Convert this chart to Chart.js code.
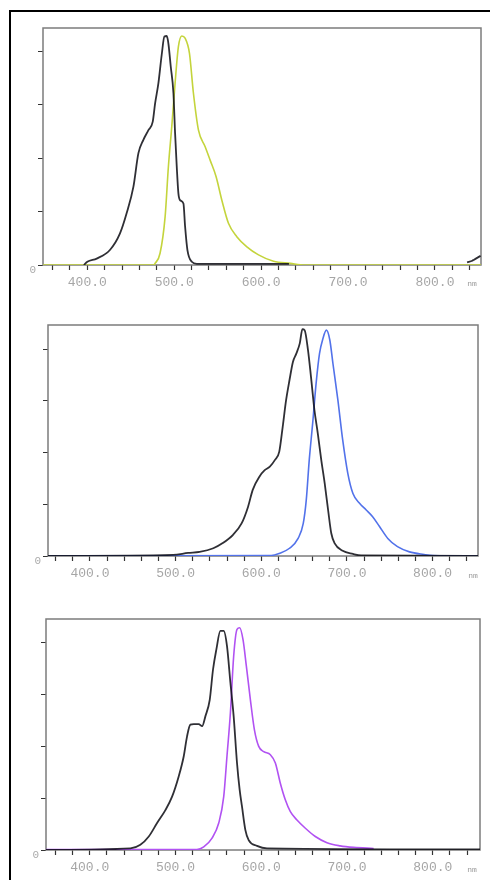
<!DOCTYPE html>
<html>
<head>
<meta charset="utf-8">
<script src="https://cdn.jsdelivr.net/npm/chart.js@4.4.0/dist/chart.umd.min.js"></script>
<style>
  body { margin: 0; background: #fff; width: 490px; height: 880px; overflow: hidden; position: relative; }
  #frame { position: absolute; left: 9px; top: 10px; width: 600px; height: 1000px; border: 2px solid #000; }
  canvas { position: absolute; }
  .unit { position: absolute; font: 8px "Liberation Mono", monospace; color: #999; transform: translate(-50%, -50%); }
</style>
</head>
<body>
<div id="frame"></div>
<canvas id="c1"></canvas>
<canvas id="c2"></canvas>
<canvas id="c3"></canvas>
<span class="unit" style="left:472px;top:283px">nm</span>
<span class="unit" style="left:473px;top:575px">nm</span>
<span class="unit" style="left:472px;top:869px">nm</span>

<script>
// ── Axis ticks ───────────────────────────────────────────────
const xTicks  = [360, 380, 400, 420, 440, 460, 480, 500, 520, 540, 560, 580, 600,
                 620, 640, 660, 680, 700, 720, 740, 760, 780, 800, 820, 840];
const xMajor  = [400, 500, 600, 700, 800];
const xLabels = ['400.0', '500.0', '600.0', '700.0', '800.0'];
const yTicks  = [0, 1, 2, 3, 4];

// ── Panel 1: excitation (black) / emission (yellow-green) ───
const p1ExNm  = [396, 400, 410.8, 426, 437.6, 445.3, 453, 458.8, 464.5, 470.3, 475.3, 478, 481.8, 485.6, 488.7,
                 491.4, 493.3, 496, 499.1, 501, 502.9, 504.8, 506.8, 510.6, 512.5, 515.2, 520.2, 526, 632,
                 700, 837, 843, 845, 852.5];
const p1ExVal = [0, 0.06, 0.12, 0.28, 0.59, 0.97, 1.46, 2.09, 2.34, 2.52, 2.68, 3.02, 3.40, 3.93, 4.27,
                 4.28, 4.14, 3.71, 3.21, 2.46, 1.84, 1.34, 1.21, 1.15, 0.72, 0.28, 0.06, 0.02, 0.02,
                 null, 0.05, 0.08, 0.10, 0.17];
const p1EmNm  = [349, 476, 478, 483.7, 489.5, 493.3, 497.2, 501, 504.8, 508.7, 512.5, 517.5, 522.1, 527.9,
                 535.6, 541.3, 548.2, 554.8, 562.4, 572, 583.6, 597, 614.3, 633.5, 650, 853];
const p1EmVal = [0, 0, 0.03, 0.22, 0.90, 1.84, 2.59, 3.40, 4.08, 4.28, 4.24, 3.96, 3.21, 2.52,
                 2.21, 1.96, 1.65, 1.21, 0.78, 0.53, 0.34, 0.19, 0.07, 0.03, 0, 0];

// ── Panel 2: excitation (black) / emission (blue) ───────────
const p2ExNm  = [351, 497, 514.6, 528, 544, 555, 567, 577, 584.5, 590, 598, 604, 610, 616, 621, 625, 629,
                 633, 637, 641, 645, 648, 650.6, 654.5, 658, 662, 666, 670, 674, 678, 681.7, 685.5,
                 695, 707, 716.6, 853];
const p2ExVal = [0, 0.02, 0.06, 0.08, 0.15, 0.25, 0.41, 0.63, 0.95, 1.28, 1.54, 1.66, 1.73, 1.86, 2.02, 2.50, 3.02,
                 3.41, 3.76, 3.92, 4.12, 4.39, 4.37, 3.99, 3.47, 2.83, 2.37, 1.86, 1.41, 0.89, 0.44, 0.25,
                 0.10, 0.04, 0.01, 0];
const p2EmNm  = [351, 611.7, 621, 633, 643, 649, 652.5, 656, 660, 664, 668, 672, 676, 680, 683.6, 689.4,
                 695, 701, 707, 714.7, 722.5, 730, 738, 747.7, 759, 773, 790, 800, 853];
const p2EmVal = [0, 0.01, 0.05, 0.15, 0.34, 0.63, 1.08, 1.86, 2.57, 3.34, 3.92, 4.21, 4.37, 4.18, 3.73, 3.02,
                 2.25, 1.60, 1.21, 1.02, 0.89, 0.76, 0.57, 0.34, 0.18, 0.08, 0.03, 0.01, 0];

// ── Panel 3: excitation (black) / emission (violet) ─────────
const p3ExNm  = [349, 447.4, 459, 468.8, 478.5, 488.2, 496, 503.7, 509.6, 513.4, 517.3, 521.2, 527, 531,
                 534.8, 539.9, 543.7, 547.6, 552.3, 556.2, 560, 564, 567.8, 571.7, 574.8, 577.5, 581.4,
                 585.3, 595, 606.7, 855];
const p3ExVal = [0, 0.03, 0.10, 0.26, 0.52, 0.77, 1.03, 1.42, 1.81, 2.19, 2.42, 2.43, 2.43, 2.39,
                 2.58, 2.90, 3.48, 3.87, 4.23, 4.23, 3.94, 3.23, 2.58, 1.68, 1.16, 0.84, 0.39,
                 0.19, 0.08, 0.03, 0.01];
const p3EmNm  = [349, 525, 532.9, 542.6, 550.4, 556.2, 560, 564, 567.8, 571.7, 574.8, 578.7, 582.6, 587.3,
                 592, 597, 602.8, 610.6, 616.4, 622.2, 628, 633.9, 641.6, 651.4, 663, 676.6, 692, 707.7, 731];
const p3EmVal = [0.01, 0.01, 0.06, 0.23, 0.52, 1.03, 1.81, 2.65, 3.74, 4.26, 4.29, 4.06, 3.55, 2.90,
                 2.32, 2.00, 1.90, 1.84, 1.68, 1.29, 0.97, 0.74, 0.58, 0.42, 0.26, 0.14, 0.08, 0.05, 0.03];

// ── Colours ──────────────────────────────────────────────────
const BLACK  = 'rgba(10, 10, 18, 0.85)';
const YELLOW = '#c4d43c';
const BLUE   = '#5272ea';
const VIOLET = '#b152f2';

const LABEL_FONT = { family: '"Liberation Mono", monospace', size: 13 };

function pts(xs, ys) {
  return xs.map((x, i) => ({ x, y: ys[i] }));
}

// grey frame around the plot area, drawn under the curves
const boxPlugin = {
  id: 'box',
  beforeDatasetsDraw(chart) {
    const a = chart.chartArea, c = chart.ctx;
    c.save();
    c.strokeStyle = '#7c7c7c';
    c.lineWidth = 1.5;
    c.strokeRect(a.left, a.top, a.right - a.left, a.bottom - a.top);
    c.restore();
  }
};

const AX_W = 40, AX_H = 35, PAD = 10;

function makePanel(id, box, xMin, xMax, yMax, ex, em, emColor) {
  const cv = document.getElementById(id);
  const w = Math.round(box.r - box.l) + AX_W + PAD;
  const h = Math.round(box.b - box.t) + AX_H + PAD;
  cv.width = w; cv.height = h;
  cv.style.width = w + 'px'; cv.style.height = h + 'px';
  cv.style.left = (box.l - AX_W) + 'px';
  cv.style.top  = (box.t - PAD) + 'px';

  new Chart(cv.getContext('2d'), {
    type: 'line',
    data: {
      datasets: [
        { data: ex, borderColor: BLACK, borderWidth: 1.8 },
        { data: em, borderColor: emColor, borderWidth: 1.6 }
      ]
    },
    options: {
      responsive: false,
      animation: false,
      spanGaps: false,
      layout: { padding: { left: 0, top: PAD, right: PAD, bottom: 0 } },
      elements: {
        point: { radius: 0 },
        line:  { cubicInterpolationMode: 'monotone', fill: false }
      },
      plugins: { legend: { display: false }, tooltip: { enabled: false } },
      scales: {
        x: {
          type: 'linear', min: xMin, max: xMax,
          afterBuildTicks: s => { s.ticks = xTicks.map(v => ({ value: v })); },
          afterFit: s => { s.height = AX_H; },
          border: { display: false },
          grid: { drawOnChartArea: false, tickLength: 5, tickColor: '#333', tickWidth: 1.2 },
          ticks: {
            autoSkip: false, maxRotation: 0, padding: 5,
            color: '#a6a6a6', font: LABEL_FONT,
            callback: v => { const i = xMajor.indexOf(v); return i >= 0 ? xLabels[i] : ''; }
          }
        },
        y: {
          min: 0, max: yMax,
          afterBuildTicks: s => { s.ticks = yTicks.map(v => ({ value: v })); },
          afterFit: s => { s.width = AX_W; },
          border: { display: false },
          grid: { drawOnChartArea: false, tickLength: 5, tickColor: '#333', tickWidth: 1 },
          ticks: {
            padding: 2, labelOffset: 5,
            color: '#aaa', font: { family: '"Liberation Mono", monospace', size: 11 },
            callback: v => v === 0 ? '0' : ''
          }
        }
      }
    },
    plugins: [boxPlugin]
  });
}

makePanel('c1', { l: 42.7, t: 28.3, r: 481,   b: 265 }, 349, 853, 4.43,
          pts(p1ExNm, p1ExVal), pts(p1EmNm, p1EmVal), YELLOW);
makePanel('c2', { l: 47.7, t: 325,  r: 477.7, b: 556 }, 351, 853, 4.47,
          pts(p2ExNm, p2ExVal), pts(p2EmNm, p2EmVal), BLUE);
makePanel('c3', { l: 45.7, t: 619.3, r: 480,  b: 850 }, 349, 855, 4.46,
          pts(p3ExNm, p3ExVal), pts(p3EmNm, p3EmVal), VIOLET);
</script>
</body>
</html>
